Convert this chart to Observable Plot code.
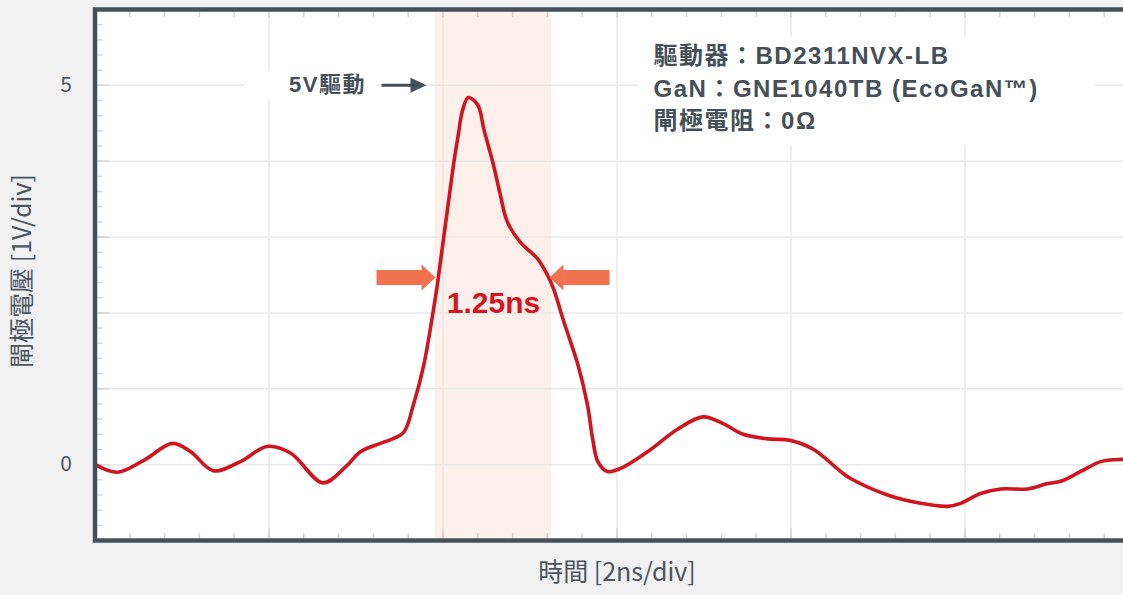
<!DOCTYPE html>
<html><head><meta charset="utf-8">
<script src="https://cdn.jsdelivr.net/npm/d3@7"></script>
<script src="https://cdn.jsdelivr.net/npm/@observablehq/plot@0.6"></script>
<style>
html,body{margin:0;padding:0;background:#f1f1f1;overflow:hidden;width:1123px;height:595px;}
#chart{position:absolute;left:0;top:0;width:1140px;}
#chart svg{max-width:none !important;width:1140px !important;height:595px !important;}
</style></head><body><div id="chart"></div>
<script>
// ---- data (time in ns, 2 ns per division; gate voltage in V) ----
const timeNs = [0.02,0.26,0.58,0.89,1.10,1.36,1.67,1.98,2.25,2.62,2.88,3.05,3.28,3.40,3.55,3.66,3.78,3.88,3.94,4.12,4.18,4.22,4.29,4.40,4.47,4.58,4.66,4.74,4.89,5.09,5.20,5.27,5.39,5.55,5.66,5.72,5.78,5.89,6.04,6.35,6.70,6.99,7.22,7.45,7.73,7.99,8.26,8.57,8.68,9.11,9.49,9.80,9.95,10.18,10.41,10.72,10.95,11.10,11.33,11.56,11.81,12.0];
const gateV = [-0.01,-0.10,0.07,0.28,0.17,-0.08,0.04,0.24,0.15,-0.24,-0.03,0.17,0.28,0.33,0.43,0.79,1.32,1.97,2.41,3.95,4.38,4.65,4.84,4.74,4.42,3.95,3.55,3.20,2.93,2.71,2.50,2.32,1.88,1.32,0.79,0.34,0.04,-0.09,-0.05,0.17,0.47,0.63,0.54,0.40,0.34,0.32,0.20,-0.09,-0.18,-0.40,-0.51,-0.55,-0.51,-0.38,-0.32,-0.32,-0.25,-0.22,-0.09,0.04,0.07,0.07];
const yTickValues = [0, 5];
const yTickLabels = ["0", "5"];
const xMajorNs = [2, 4, 6, 8, 10];
const yMajorV = [0, 1, 2, 3, 4, 5];
const pulseWindowNs = [{start: 3.91, end: 5.25}];
const widthLabel = "1.25ns";
const driveLabel = "5V驅動";
const infoLines = ["驅動器：BD2311NVX-LB", "GaN：GNE1040TB (EcoGaN™)", "閘極電阻：0Ω"];
const xTitle = "時間 [2ns/div]";
const yTitle = "閘極電壓 [1V/div]";

const series = timeNs.map((t, i) => ({t, v: gateV[i]}));
const minorX = d3.range(0.4, 12, 0.4);
const minorY = d3.range(-0.8, 6, 0.2);

const headRight = (len, half) => ({
  draw(ctx) { ctx.moveTo(0, 0); ctx.lineTo(-len, -half); ctx.lineTo(-len, half); ctx.closePath(); }
});
const headLeft = (len, half) => ({
  draw(ctx) { ctx.moveTo(0, 0); ctx.lineTo(len, -half); ctx.lineTo(len, half); ctx.closePath(); }
});

const gridStyle = {stroke: "#e8e8e8", strokeOpacity: 1, strokeWidth: 1.5};
const tickStyle = {stroke: "#d6d6d6", strokeWidth: 1.5, tickFormat: () => "", label: null};
const dark = "#454f58";
const orange = "#f07251";
const boldFont = '"Liberation Sans", "Noto Sans CJK TC", sans-serif';

const chart = Plot.plot({
  width: 1140, height: 595,
  marginTop: 9, marginBottom: 55, marginLeft: 94.5, marginRight: 1.5,
  x: {domain: [0, 12]},
  y: {domain: [-1, 6]},
  style: {background: "transparent", fontFamily: '"Noto Sans CJK TC", sans-serif', color: "#4a5561", overflow: "visible"},
  marks: [
    Plot.frame({fill: "white", stroke: null}),
    Plot.rect(pulseWindowNs, {x1: "start", x2: "end", fill: "#fdf0eb"}),
    Plot.gridX(xMajorNs, gridStyle),
    Plot.gridY(yMajorV, gridStyle),
    Plot.axisX(minorX, {anchor: "bottom", tickSize: -7, ...tickStyle}),
    Plot.axisX(minorX, {anchor: "top", tickSize: -7, ...tickStyle}),
    Plot.axisY(minorY, {anchor: "left", tickSize: -8, ...tickStyle}),
    Plot.axisY(minorY, {anchor: "right", tickSize: -8, ...tickStyle}),
    Plot.axisX(xMajorNs, {anchor: "bottom", tickSize: -12, ...tickStyle}),
    Plot.axisY(yMajorV, {anchor: "left", tickSize: -15, ...tickStyle}),
    Plot.axisY(yTickValues, {anchor: "left", tickSize: 0, tickPadding: 23, fontSize: 21, label: null,
      tickFormat: (d) => yTickLabels[yTickValues.indexOf(d)]}),
    // white boxes behind annotations
    Plot.rect([0], {x1: 1.72, x2: 3.78, y1: 4.80, y2: 5.18, fill: "white"}),
    Plot.rect([0], {x1: 6.25, x2: 11.5, y1: 4.21, y2: 5.63, fill: "white"}),
    // waveform
    Plot.line(series, {x: "t", y: "v", stroke: "#d0151f", strokeWidth: 3.6, curve: "catmull-rom"}),
    // orange width arrows
    Plot.link([0], {x1: 3.236, x2: 3.77, y1: 2.467, y2: 2.467, stroke: orange, strokeWidth: 15}),
    Plot.dot([0], {x: 3.914, y: 2.467, symbol: headRight(14, 13), fill: orange, stroke: null}),
    Plot.link([0], {x1: 5.38, x2: 5.914, y1: 2.467, y2: 2.467, stroke: orange, strokeWidth: 15}),
    Plot.dot([0], {x: 5.224, y: 2.467, symbol: headLeft(14, 13), fill: orange, stroke: null}),
    // 5V drive arrow
    Plot.link([0], {x1: 3.293, x2: 3.66, y1: 5, y2: 5, stroke: dark, strokeWidth: 3}),
    Plot.dot([0], {x: 3.81, y: 5, symbol: headRight(16, 7.5), fill: dark, stroke: null}),
    Plot.text([driveLabel], {x: 2.672, y: 5, text: (d) => d, fontSize: 22, fontWeight: "bold", fill: dark,
      fontFamily: boldFont}),
    Plot.text([infoLines.join("\n")], {x: 6.42, y: 4.985, text: (d) => d, textAnchor: "start", lineAnchor: "middle",
      lineHeight: 1.35, fontSize: 24, fontWeight: "bold", fill: dark, fontFamily: boldFont}),
    Plot.text([widthLabel], {x: 4.58, y: 2.12, text: (d) => d, fontSize: 30, fontWeight: "bold", fill: "#d7131f", fontFamily: boldFont}),
    // axis titles
    Plot.text([xTitle], {frameAnchor: "bottom", dy: 40, text: (d) => d, fontSize: 25, fill: "#4a5561"}),
    Plot.text([yTitle], {frameAnchor: "left", dx: -72, dy: -4, rotate: -90, textAnchor: "middle", text: (d) => d, fontSize: 25, fill: "#4a5561"}),
    Plot.frame({stroke: "#465059", strokeWidth: 4.5})
  ]
});
d3.select(chart).selectAll("text")
  .filter(function () { const s = this.textContent; return s.includes("驅動") || s.includes("GaN"); })
  .attr("letter-spacing", "1.5px").style("letter-spacing", "1.5px");
document.getElementById("chart").append(chart);
</script></body></html>
